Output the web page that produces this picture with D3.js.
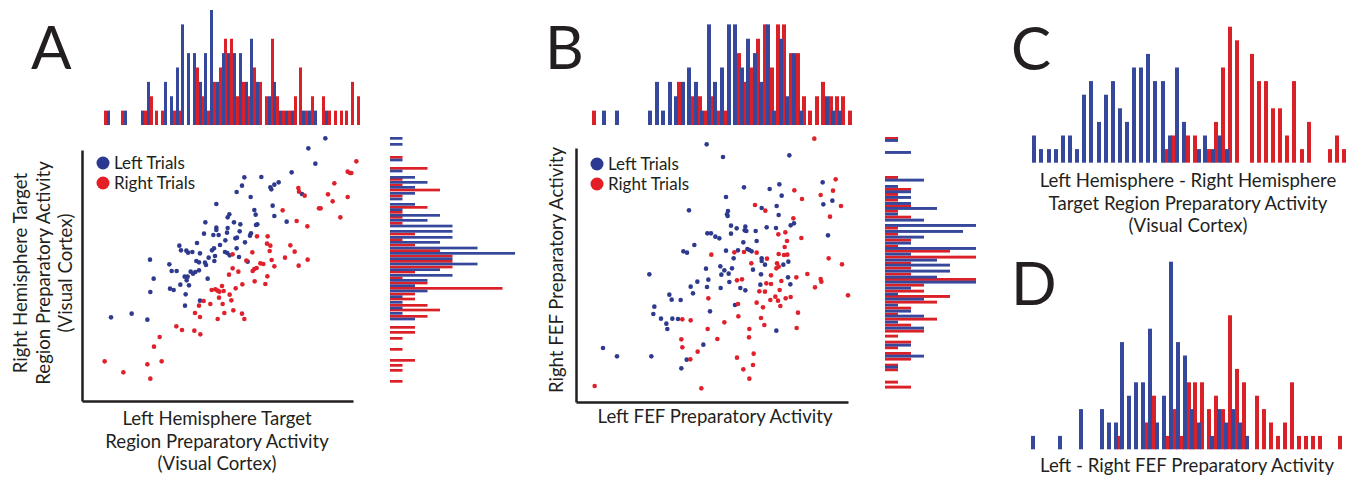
<!DOCTYPE html>
<html>
<head>
<meta charset="utf-8">
<script src="https://cdn.jsdelivr.net/npm/d3@7"></script>
<style>
  body { margin: 0; background: #fff; }
  svg text { font-family: Lato, "Open Sans", sans-serif; fill: #231f20; }
  .panel-letter { font-size: 60px; }
  .label { font-size: 18.6px; }
  .legend-label { font-size: 17px; }
</style>
</head>
<body>
<svg id="chart"></svg>
<script>
// colours
const blueBar = '#36489b', redBar = '#da2127';
const blueDot = '#2e3a8e', redDot = '#e0202b';

// ---- Panel A: visual cortex (arbitrary activity units) ----
const aLeft = [[70.6,80.0],[65.5,77.0],[67.6,72.4],[60.5,69.8],[46.3,68.3],[51.4,68.4],[45.6,65.8],[44.0,63.9],[54.1,65.3],[55.3,66.1],[56.6,66.8],[54.4,64.7],[63.6,63.3],[48.2,62.4],[37.9,60.3],[54.8,59.8],[49.3,58.5],[49.7,57.1],[41.8,57.2],[41.3,56.3],[55.3,56.7],[59.0,55.0],[34.6,54.8],[43.2,54.8],[45.1,54.2],[50.2,54.2],[49.8,54.0],[37.9,53.2],[37.9,52.5],[41.3,53.1],[44.9,52.1],[34.2,51.4],[37.0,51.0],[38.6,51.0],[41.1,51.7],[48.3,51.5],[48.0,50.8],[43.6,50.0],[40.6,49.4],[44.1,50.2],[32.1,48.6],[46.5,48.8],[26.8,47.8],[39.0,48.0],[44.0,47.0],[27.3,46.4],[28.9,46.3],[30.7,45.9],[29.4,45.7],[33.0,45.5],[37.2,47.0],[36.6,46.4],[40.5,45.9],[41.2,45.6],[41.9,44.9],[35.6,44.2],[37.5,44.7],[18.0,43.6],[23.8,42.2],[31.9,43.2],[32.7,42.8],[34.8,42.0],[34.5,42.7],[44.7,44.4],[47.3,43.0],[37.3,43.2],[24.5,40.2],[26.0,40.2],[30.2,40.0],[31.6,39.9],[32.7,40.4],[30.9,39.4],[28.4,38.5],[29.3,38.5],[29.0,37.4],[19.1,37.9],[35.3,37.9],[27.1,36.1],[29.7,35.9],[24.0,34.9],[25.1,34.5],[18.1,33.9],[28.7,33.2],[33.0,31.3],[28.5,29.8],[6.3,26.3],[12.5,27.4],[17.2,25.6]];
const aRight = [[79.9,73.1],[77.3,70.0],[78.0,69.6],[78.4,69.6],[73.3,66.5],[62.5,65.1],[62.7,64.0],[64.4,62.8],[71.4,63.2],[77.3,62.4],[72.8,61.1],[68.7,59.0],[69.2,59.0],[57.8,58.4],[62.0,55.2],[65.2,53.6],[75.1,56.3],[50.1,50.6],[53.3,50.6],[53.1,48.4],[54.1,47.8],[48.7,45.8],[60.1,47.9],[61.4,46.0],[42.8,45.2],[53.9,46.2],[58.5,44.2],[54.5,43.5],[51.1,42.5],[52.0,42.3],[46.9,43.3],[65.3,43.6],[62.6,41.8],[55.3,41.6],[42.8,41.0],[44.5,40.0],[41.7,39.1],[48.8,40.2],[49.3,40.8],[50.0,41.1],[53.2,38.6],[49.4,37.1],[45.7,36.2],[52.6,36.3],[43.7,35.0],[39.6,35.7],[36.5,34.5],[37.6,34.7],[38.3,34.3],[40.1,34.2],[38.8,34.0],[41.9,33.1],[38.7,32.2],[34.1,31.2],[36.1,30.3],[39.8,30.3],[42.4,31.4],[32.7,29.8],[43.0,28.4],[40.3,27.6],[31.5,27.6],[33.0,26.4],[38.3,25.8],[45.6,27.4],[46.3,25.8],[25.9,23.6],[27.6,22.5],[31.3,22.3],[33.1,21.2],[20.9,20.4],[19.2,17.5],[21.5,13.1],[4.4,13.1],[17.2,12.2],[10.0,9.8],[18.1,7.9]];

// marginal histograms A (bin start, count)
const aTopRedBins = [4.2,9.3,16.2,18.0,19.5,21.3,24.9,26.4,31.8,33.3,35.1,36.9,38.7,40.2,42.0,43.8,45.6,47.2,48.9,50.7,52.5,54.3,55.8,57.6,59.4,61.2,62.7,64.5,66.3,69.6,71.4,73.2,75.0,76.5,78.3,80.1];
const aTopRedN    = [1,1,1,2,1,1,1,1,4,2,1,3,4,6,6,2,3,2,4,3,2,6,2,1,1,2,4,1,2,2,1,1,1,1,3,2];
const aTopBlueBins = [5.1,10.2,15.3,17.1,22.2,24.0,25.8,27.3,29.1,30.9,32.7,34.2,36.0,37.8,39.6,41.1,42.9,44.7,46.5,48.0,49.8,53.4,54.9,56.7,58.5,60.3,63.6,65.4,67.2,70.5];
const aTopBlueN    = [1,1,1,3,3,2,4,7,5,5,3,5,8,3,5,5,5,5,3,6,3,2,3,1,1,1,1,1,1,1];
const aSideRedBins = [74.7,71.4,68.1,66.4,64.9,63.1,59.7,58.2,56.7,54.9,51.7,50.0,48.4,46.7,45.1,43.5,41.8,40.3,38.5,37.0,35.4,33.7,32.2,30.3,28.9,27.0,23.7,22.2,20.4,17.1,13.8,12.3,10.8,7.5];
const aSideRedN    = [1,3,1,1,4,1,3,1,1,1,2,1,2,4,5,5,5,2,1,3,9,2,2,3,4,3,2,2,1,1,2,1,1,1];
const aSideBlueBins = [80.4,78.6,73.9,70.6,68.7,67.2,65.7,63.9,62.2,60.6,59.0,57.3,55.8,54.1,52.5,50.7,49.2,47.5,45.9,44.3,42.7,41.0,39.3,37.8,36.2,34.6,32.9,31.2,29.5,27.9,26.2];
const aSideBlueN    = [1,1,1,1,2,3,2,2,1,2,1,4,3,5,5,5,4,7,10,5,7,4,5,3,2,3,1,1,1,1,2];

// ---- Panel B: FEF ----
const bLeft = [[38.0,78.2],[42.9,74.4],[62.8,74.9],[49.2,65.3],[56.9,64.8],[59.8,66.2],[60.5,62.8],[43.8,62.4],[72.8,66.8],[73.0,60.2],[75.7,61.3],[32.7,58.4],[54.5,59.1],[59.0,59.7],[59.6,57.0],[44.4,58.2],[44.1,57.2],[44.3,56.7],[45.3,53.8],[47.0,53.0],[49.6,53.5],[49.4,52.4],[49.9,52.2],[52.7,52.2],[56.0,53.3],[58.8,53.1],[63.2,53.9],[64.2,54.5],[45.3,51.4],[38.2,51.5],[39.3,51.5],[40.6,50.5],[41.8,50.0],[49.0,48.8],[53.0,49.2],[74.4,50.9],[34.3,48.0],[43.8,46.3],[31.0,46.1],[32.1,45.7],[47.4,46.4],[50.2,46.8],[50.8,46.5],[51.5,46.1],[54.5,44.0],[54.5,43.2],[55.5,42.1],[46.1,44.0],[62.5,43.0],[61.0,42.1],[37.8,40.9],[42.1,41.6],[43.3,40.4],[44.6,39.4],[45.6,41.0],[42.4,39.1],[51.9,40.6],[54.3,39.2],[62.4,38.3],[63.1,36.2],[20.8,39.2],[35.2,37.0],[38.5,37.6],[44.8,36.9],[33.2,35.5],[38.1,35.4],[42.2,35.1],[48.1,35.1],[49.6,34.4],[54.1,36.1],[33.9,33.5],[26.8,33.1],[27.5,31.6],[30.2,31.5],[46.5,30.0],[22.3,29.5],[22.0,27.3],[24.3,25.9],[27.7,25.9],[29.4,25.8],[25.9,24.4],[26.2,22.8],[39.0,28.1],[58.9,22.3],[37.0,18.1],[6.9,17.1],[11.1,14.6],[21.4,14.6],[32.0,13.6],[30.4,11.0]];
const bRight = [[70.3,79.9],[76.7,67.7],[64.3,64.4],[72.2,63.0],[75.9,64.3],[66.6,61.8],[78.3,59.7],[52.5,60.0],[55.6,58.3],[75.0,56.5],[64.0,56.0],[61.6,51.8],[59.5,51.2],[62.1,49.2],[66.4,50.1],[61.4,47.4],[39.4,45.1],[46.3,45.8],[49.2,45.9],[53.0,45.7],[59.6,45.3],[61.2,45.0],[62.2,45.1],[51.4,42.5],[56.1,43.9],[59.1,42.5],[59.6,41.5],[58.9,41.0],[74.6,44.0],[78.6,42.2],[68.2,39.3],[64.9,38.3],[72.2,37.8],[72.4,37.0],[70.5,35.3],[47.1,37.4],[48.6,37.7],[57.3,38.9],[60.4,37.2],[55.9,36.5],[57.3,36.3],[53.8,34.1],[55.5,34.0],[59.9,34.5],[38.5,32.0],[53.0,30.7],[54.9,29.3],[57.1,31.5],[58.6,32.5],[59.4,31.3],[60.1,29.7],[61.7,32.0],[63.2,32.4],[80.4,32.9],[47.4,30.3],[65.4,27.7],[47.5,26.6],[30.7,25.7],[33.2,25.4],[54.3,26.1],[55.3,24.0],[43.3,24.8],[38.3,22.8],[50.8,22.8],[65.0,23.1],[41.2,19.8],[30.4,19.7],[50.7,20.3],[30.7,17.3],[35.3,16.0],[33.1,13.7],[52.1,15.4],[47.1,14.2],[51.9,12.0],[49.0,10.7],[50.8,7.9],[4.4,5.7],[36.4,5.0]];

const bTopRedBins = [3.6,29.1,33.3,35.4,37.2,39.3,41.1,43.2,47.1,49.2,51.0,52.8,54.9,57.0,58.8,60.6,62.7,64.8,66.6,68.4,70.5,72.3,74.7,76.5,78.3,80.4];
const bTopRedN    = [1,3,2,2,1,2,1,1,5,3,4,6,7,4,7,7,5,5,2,1,2,3,2,2,2,1];
const bTopBlueBins = [6.6,10.5,20.4,22.5,24.3,26.4,28.2,30.3,32.1,34.2,36.0,38.1,39.9,42.0,44.1,45.9,48.0,49.8,51.9,53.7,55.8,57.6,59.7,61.5,63.6,65.7,73.5,75.3,77.4];
const bTopBlueN    = [1,1,1,3,1,3,2,3,4,3,1,7,3,4,7,7,4,6,5,3,7,1,6,2,5,1,2,1,1];
const bSideRedBins = [80.4,68.7,65.1,63.6,61.9,60.2,58.6,56.8,53.5,51.7,49.9,48.1,46.6,44.8,43.0,41.5,39.7,38.1,36.4,34.6,33.0,31.3,29.5,27.7,26.2,24.4,22.6,21.1,19.3,17.6,15.9,14.2,12.4,11.0,7.3,5.8];
const bSideRedN    = [1,1,2,1,1,2,1,2,1,1,2,1,5,7,2,2,2,7,3,3,5,4,2,1,4,2,3,1,2,1,2,2,1,1,1,2];
const bSideBlueBins = [79.8,76.2,67.9,66.0,64.4,62.7,60.9,59.4,57.7,55.9,54.3,52.5,50.8,49.0,47.4,45.7,43.9,42.4,40.6,38.8,37.3,35.5,33.7,32.2,30.4,28.6,27.1,25.3,23.5,18.4,15.1,11.8];
const bSideBlueN    = [1,2,3,1,2,2,2,4,1,3,7,6,3,2,7,2,4,5,5,4,7,2,1,3,1,2,3,1,3,2,3,1];

// ---- Panel C: left - right hemisphere (visual cortex) ----
const cRedBins = [43.2,45.3,49.8,51.9,56.1,58.2,60.3,62.4,64.5,69.0,71.1,73.2,75.3,77.4,79.5,81.6,84.0,86.1,92.4,94.5,96.6];
const cRedN    = [1,2,2,2,1,3,7,10,9,8,6,6,4,4,2,6,1,3,1,2,1];
const cBlueBins = [3.6,5.7,8.1,10.2,12.3,14.4,16.5,18.6,20.7,23.1,25.2,27.3,29.4,31.5,33.6,35.7,37.8,39.9,42.3,44.4,46.5,48.6,53.1,54.9,57.3,59.4,61.5];
const cBlueN    = [2,1,1,1,2,2,1,5,6,3,5,6,4,3,7,7,8,6,6,2,7,3,1,2,1,2,1];

// ---- Panel D: left - right FEF ----
const dRedBins = [29.1,37.5,39.6,43.8,45.9,48.0,50.1,51.9,54.0,56.1,58.2,60.3,62.4,64.5,66.6,70.5,72.6,74.7,76.8,78.9,81.0,83.1,85.2,87.3,89.4,95.4];
const dRedN    = [1,2,4,1,3,1,5,5,5,3,4,3,10,6,5,4,3,2,1,2,5,1,1,1,1,1];
const dBlueBins = [3.3,11.4,17.7,24.0,26.1,28.2,30.0,32.1,34.2,36.3,38.4,40.5,42.6,44.7,46.8,48.9,51.0,53.1,57.0,59.1,61.2,63.3,65.4,67.5];
const dBlueN    = [1,1,3,3,2,2,8,4,5,5,9,2,4,14,8,7,3,2,1,3,2,3,2,1];

const svg = d3.select('#chart')
    .attr('width', 1357)
    .attr('height', 479);

svg.append('rect').attr('width', 1357).attr('height', 479).attr('fill', '#fff');

// scales
const xA = d3.scaleLinear().domain([0, 87]).range([90, 380]);
const xB = d3.scaleLinear().domain([0, 87]).range([580, 870]);
const yS = d3.scaleLinear().domain([0, 84]).range([405, 125]);
const yTop = d3.scaleLinear().domain([0, 8]).range([125, 10]);
const xSideA = d3.scaleLinear().domain([0, 10]).range([390, 515]);
const xSideB = d3.scaleLinear().domain([0, 10]).range([885, 1015]);
const xCD = d3.scaleLinear().domain([0, 30]).range([1020, 1120]);
const yC = d3.scaleLinear().domain([0, 10]).range([162.7, 26.7]);
const yD = d3.scaleLinear().domain([0, 14]).range([449.3, 261.7]);

function vHist(bins, counts, x, y, color, w) {
    svg.append('g').selectAll('rect')
        .data(d3.zip(bins, counts))
        .join('rect')
        .attr('x', d => x(d[0]))
        .attr('y', d => y(d[1]))
        .attr('width', w)
        .attr('height', d => y(0) - y(d[1]))
        .attr('fill', color);
}

function hHist(bins, counts, x, y, color, h) {
    svg.append('g').selectAll('rect')
        .data(d3.zip(bins, counts))
        .join('rect')
        .attr('x', x(0))
        .attr('y', d => y(d[0]))
        .attr('width', d => x(d[1]) - x(0))
        .attr('height', h)
        .attr('fill', color);
}

function dots(points, x, y, color) {
    svg.append('g').selectAll('circle')
        .data(points)
        .join('circle')
        .attr('cx', d => x(d[0]))
        .attr('cy', d => y(d[1]))
        .attr('r', 2.3)
        .attr('fill', color);
}

// frame = two axes with no ticks
function frame(left, right, top, bottom) {
    const fx = d3.scaleLinear().range([left, right]);
    const fy = d3.scaleLinear().range([bottom, top]);
    svg.append('g')
        .attr('transform', `translate(0,${bottom})`)
        .call(d3.axisBottom(fx).ticks(0).tickSizeOuter(0));
    svg.append('g')
        .attr('transform', `translate(${left},0)`)
        .call(d3.axisLeft(fy).ticks(0).tickSizeOuter(0));
}

function legend(x, y) {
    const items = [['Left Trials', '#2b3990'], ['Right Trials', '#e31e25']];
    const g = svg.append('g').attr('transform', `translate(${x},${y})`);
    items.forEach((it, i) => {
        g.append('circle').attr('cx', 0).attr('cy', i * 20).attr('r', 6.5).attr('fill', it[1]);
        g.append('text').attr('class', 'legend-label').attr('x', 11).attr('y', i * 20 + 6).text(it[0]);
    });
}

function lines(x, y, arr, rotate) {
    const t = svg.append('text')
        .attr('class', 'label')
        .attr('text-anchor', 'middle')
        .attr('transform', rotate ? `translate(${x},${y}) rotate(-90)` : `translate(${x},${y})`);
    arr.forEach((s, i) => {
        t.append('tspan').attr('x', 0).attr('y', i * 22.5).text(s);
    });
}

function letter(s, x, y) {
    svg.append('text').attr('class', 'panel-letter').attr('x', x).attr('y', y).text(s);
}

// Panel A
vHist(aTopRedBins, aTopRedN, xA, yTop, redBar, 3);
vHist(aTopBlueBins, aTopBlueN, xA, yTop, blueBar, 3);
hHist(aSideRedBins, aSideRedN, xSideA, yS, redBar, 2.7);
hHist(aSideBlueBins, aSideBlueN, xSideA, yS, blueBar, 2.7);
dots(aLeft, xA, yS, blueDot);
dots(aRight, xA, yS, redDot);
frame(82, 353, 150, 401);
legend(103, 163);
lines(217, 425, ['Left Hemisphere Target', 'Region Preparatory Activity', '(Visual Cortex)'], false);
lines(27, 273, ['Right Hemisphere Target', 'Region Preparatory Activity', '(Visual Cortex)'], true);
letter('A', 31, 69);

// Panel B
vHist(bTopRedBins, bTopRedN, xB, yTop, redBar, 4);
vHist(bTopBlueBins, bTopBlueN, xB, yTop, blueBar, 4);
hHist(bSideRedBins, bSideRedN, xSideB, yS, redBar, 2.9);
hHist(bSideBlueBins, bSideBlueN, xSideB, yS, blueBar, 2.9);
dots(bLeft, xB, yS, blueDot);
dots(bRight, xB, yS, redDot);
frame(576, 848, 148, 402);
legend(597, 164);
lines(715, 423, ['Left FEF Preparatory Activity'], false);
lines(563, 270, ['Right FEF Preparatory Activity'], true);
letter('B', 545, 69);

// Panel C
vHist(cRedBins, cRedN, xCD, yC, redBar, 4);
vHist(cBlueBins, cBlueN, xCD, yC, blueBar, 4);
lines(1188, 187, ['Left Hemisphere - Right Hemisphere', 'Target Region Preparatory Activity', '(Visual Cortex)'], false);
letter('C', 1011, 70);

// Panel D
vHist(dRedBins, dRedN, xCD, yD, redBar, 4);
vHist(dBlueBins, dBlueN, xCD, yD, blueBar, 4);
lines(1187, 472, ['Left - Right FEF Preparatory Activity'], false);
letter('D', 1011, 305);

svg.selectAll('.domain').attr('stroke', '#231f20').attr('stroke-width', 2.5);
</script>
</body>
</html>
